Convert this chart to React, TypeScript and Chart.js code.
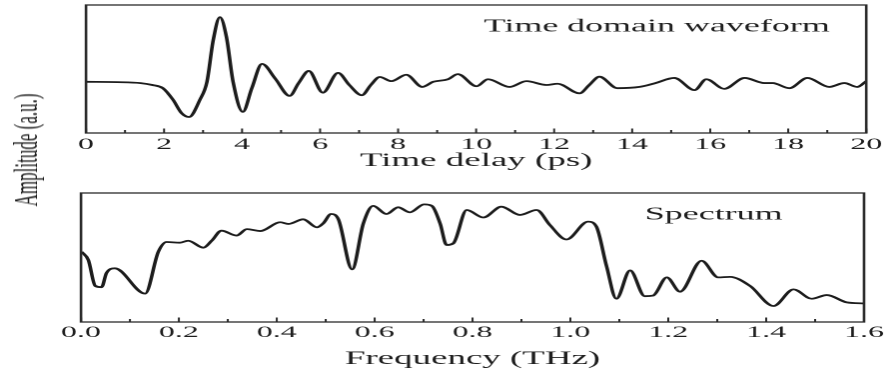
import React, { useEffect, useRef } from "react";
import { Chart, registerables } from "chart.js";
Chart.register(...registerables);

// ---------- data ----------
const timeDelay = [0, 0.8, 1.4, 1.7, 1.97, 2.23, 2.45, 2.64, 2.92, 3.1, 3.26, 3.43, 3.6, 3.77, 4.02, 4.25, 4.51, 4.85, 5.22, 5.45, 5.71, 6.07, 6.46, 6.75, 7.07, 7.3, 7.53, 7.83, 8.21, 8.62, 8.9, 9.28, 9.53, 10.01, 10.3, 10.86, 11.29, 11.8, 12.09, 12.65, 12.9, 13.16, 13.62, 14.19, 14.6, 15.08, 15.6, 15.9, 16.36, 16.88, 17.39, 17.6, 18.03, 18.49, 19.05, 19.44, 19.77, 20];
const waveform = [0, -0.005, -0.02, -0.05, -0.1, -0.28, -0.49, -0.55, -0.28, 0, 0.65, 1.01, 0.7, 0, -0.47, -0.1, 0.28, 0.05, -0.22, -0.02, 0.17, -0.17, 0.14, -0.05, -0.21, -0.05, 0.075, 0.01, 0.11, -0.08, 0, 0.04, 0.12, -0.07, 0.04, -0.08, 0.01, -0.05, -0.03, -0.18, -0.05, 0.08, -0.1, -0.08, -0.02, 0.06, -0.13, 0.04, -0.11, 0.06, -0.02, -0.02, -0.1, 0.06, -0.08, -0.02, -0.08, 0.01];

const frequency = [0.001, 0.015, 0.029, 0.042, 0.052, 0.069, 0.131, 0.158, 0.175, 0.202, 0.219, 0.25, 0.267, 0.287, 0.318, 0.339, 0.366, 0.407, 0.424, 0.454, 0.482, 0.495, 0.511, 0.526, 0.554, 0.577, 0.597, 0.624, 0.648, 0.672, 0.701, 0.717, 0.734, 0.747, 0.761, 0.788, 0.822, 0.859, 0.897, 0.931, 0.958, 0.992, 1.036, 1.053, 1.074, 1.094, 1.122, 1.152, 1.169, 1.197, 1.224, 1.268, 1.302, 1.326, 1.367, 1.415, 1.456, 1.493, 1.524, 1.565, 1.6];
const spectrum = [0.545, 0.48, 0.28, 0.27, 0.38, 0.416, 0.22, 0.545, 0.62, 0.615, 0.63, 0.576, 0.63, 0.708, 0.67, 0.72, 0.705, 0.773, 0.76, 0.796, 0.734, 0.765, 0.837, 0.796, 0.408, 0.765, 0.9, 0.837, 0.889, 0.85, 0.912, 0.9, 0.76, 0.597, 0.61, 0.868, 0.81, 0.894, 0.83, 0.868, 0.752, 0.64, 0.778, 0.74, 0.43, 0.18, 0.4, 0.2, 0.205, 0.346, 0.235, 0.475, 0.346, 0.35, 0.28, 0.124, 0.253, 0.18, 0.209, 0.152, 0.144];

const topTitle = "Time delay (ps)";
const bottomTitle = "Frequency (THz)";
const topNote = "Time domain waveform";
const bottomNote = "Spectrum";
const yLabel = "Amplitude (a.u.)";

// ---------- styling ----------
const S = 887 / 444; // horizontal stretch of the figure
const FONT = "'Liberation Serif', 'Times New Roman', serif";
const INK = "#1e1e1e";

const framePlugin = {
  id: "frameTicks",
  afterDraw(chart: any, _args: any, opts: any) {
    const { ctx, chartArea: a } = chart;
    const xs = chart.scales.x;
    const ys = chart.scales.y;
    ctx.save();
    ctx.strokeStyle = "#2a2a2a";
    ctx.lineWidth = 1.3;
    ctx.strokeRect(a.left, a.top, a.right - a.left, a.bottom - a.top);
    ctx.lineWidth = 1;
    xs.ticks.forEach((t: any) => {
      const px = xs.getPixelForValue(t.value);
      const len = t.label ? 4.5 : 3;
      ctx.beginPath();
      ctx.moveTo(px, a.bottom);
      ctx.lineTo(px, a.bottom - len);
      ctx.stroke();
    });
    ctx.fillStyle = INK;
    ctx.font = `18px ${FONT}`;
    ctx.textAlign = "center";
    ctx.textBaseline = "middle";
    ctx.fillText(opts.text, xs.getPixelForValue(opts.x), ys.getPixelForValue(opts.y));
    ctx.restore();
  },
};

function makeConfig(p: {
  xs: number[]; ys: number[]; xMin: number; xMax: number; step: number;
  yMin: number; yMax: number; label: (v: number) => string; title: string;
  padding: any; axisH: number; tickPad: number; titlePadB: number;
  note: { text: string; x: number; y: number };
}): any {
  return {
    type: "line",
    data: {
      datasets: [
        {
          data: p.xs.map((x, i) => ({ x, y: p.ys[i] })),
          borderColor: "#1c1c1c",
          borderWidth: 1.8,
          pointRadius: 0,
          cubicInterpolationMode: "monotone",
          fill: false,
        },
      ],
    },
    options: {
      animation: false,
      responsive: true,
      maintainAspectRatio: false,
      devicePixelRatio: 2,
      layout: { padding: p.padding },
      plugins: {
        legend: { display: false },
        tooltip: { enabled: false },
        frameTicks: p.note,
      },
      scales: {
        x: {
          type: "linear",
          min: p.xMin,
          max: p.xMax,
          grid: { display: false, drawTicks: false },
          border: { display: false },
          afterFit: (s: any) => { s.height = p.axisH; },
          ticks: {
            stepSize: p.step,
            autoSkip: false,
            maxRotation: 0,
            padding: p.tickPad,
            color: INK,
            font: { family: FONT, size: 16 },
            callback: (v: any) => p.label(Number(v)),
          },
          title: {
            display: true,
            text: p.title,
            color: INK,
            font: { family: FONT, size: 18.5 },
            padding: { top: 0, bottom: p.titlePadB },
          },
        },
        y: { display: false, min: p.yMin, max: p.yMax },
      },
    },
    plugins: [framePlugin],
  };
}

function ChartBox({ config, top, height }: { config: any; top: number; height: number }) {
  const ref = useRef<HTMLCanvasElement | null>(null);
  useEffect(() => {
    const c = new Chart(ref.current as HTMLCanvasElement, config);
    return () => c.destroy();
  }, []);
  return (
    <div style={{ position: "absolute", left: 0, top, width: 444, height }}>
      <canvas ref={ref} />
    </div>
  );
}

export default function App() {
  const topCfg = makeConfig({
    xs: timeDelay, ys: waveform, xMin: 0, xMax: 20, step: 1,
    yMin: -0.8, yMax: 1.2,
    label: (v) => (Math.round(v) % 2 === 0 ? String(Math.round(v)) : ""),
    title: topTitle,
    padding: { top: 5, bottom: 2, left: 86 / S, right: 444 - 867 / S },
    axisH: 40, tickPad: 2.4, titlePadB: 1,
    note: { text: topNote, x: 14.63, y: 0.86 },
  });
  const botCfg = makeConfig({
    xs: frequency, ys: spectrum, xMin: 0, xMax: 1.6, step: 0.1,
    yMin: 0, yMax: 1,
    label: (v) => {
      const k = Math.round(v * 10);
      return k % 2 === 0 ? (k / 10).toFixed(1) : "";
    },
    title: bottomTitle,
    padding: { top: 18, bottom: 3, left: 81 / S, right: 444 - 864 / S },
    axisH: 50, tickPad: 1.4, titlePadB: 2,
    note: { text: bottomNote, x: 1.293, y: 0.83 },
  });
  return (
    <div style={{ position: "fixed", left: 0, top: 0, width: 887, height: 375, background: "#fff", overflow: "hidden" }}>
      <div style={{ position: "absolute", left: 0, top: 0, width: 444, height: 375, transform: `scaleX(${S})`, transformOrigin: "0 0" }}>
        <ChartBox config={topCfg} top={0} height={175} />
        <ChartBox config={botCfg} top={175} height={200} />
        <div
          style={{
            position: "absolute", left: 12.8, top: 150,
            transform: "translate(-50%, -50%) rotate(-90deg)",
            whiteSpace: "nowrap", fontFamily: FONT, fontSize: 17, color: INK, lineHeight: 1,
          }}
        >
          {yLabel}
        </div>
      </div>
    </div>
  );
}
